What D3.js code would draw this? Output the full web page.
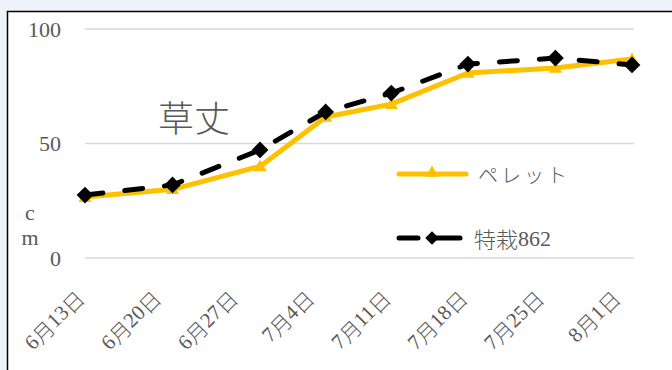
<!DOCTYPE html>
<html><head><meta charset="utf-8">
<script src="https://cdn.jsdelivr.net/npm/d3@7"></script>
<style>
html,body{margin:0;padding:0;background:#eef2f9;}
svg{display:block;}
text{font-family:"Liberation Serif","DejaVu Serif",serif;fill:#595959;}
.cjk{font-family:"Noto Sans CJK JP","Noto Sans CJK SC",sans-serif;font-weight:300;}
.lat{font-family:"Liberation Serif","DejaVu Serif",serif;}
</style></head>
<body>
<svg id="chart" width="672" height="370"></svg>
<script>
const tickLabels = ["6月13日","6月20日","6月27日","7月4日","7月11日","7月18日","7月25日","8月1日"];
const tickDates = ["2021-06-13","2021-06-20","2021-06-27","2021-07-04","2021-07-11","2021-07-18","2021-07-25","2021-08-01"];
const axisEnd = "2021-08-02";
const measureDates = ["2021-06-13","2021-06-21","2021-06-29","2021-07-05","2021-07-11","2021-07-18","2021-07-26","2021-08-02"];
const seriesNames = ["ペレット","特栽862"];
const pellet = [26.6, 30.0, 40.0, 61.6, 67.2, 80.8, 83.0, 86.9];
const tokusai = [27.5, 31.9, 47.2, 63.8, 72.0, 84.7, 87.3, 84.3];
const yTicks = [0, 50, 100];
const title = "草丈";
const unitChars = ["c","m"];

const parse = d3.timeParse("%Y-%m-%d");
const svg = d3.select("#chart");

// split text into latin / cjk runs so digits stay serif
function runs(sel, str){
  const parts = str.match(/[\x00-\x7F]+|[^\x00-\x7F]+/g) || [];
  sel.selectAll("tspan").data(parts).join("tspan")
    .attr("class", p => /^[\x00-\x7F]+$/.test(p) ? "lat" : "cjk")
    .text(p => p);
}

// chart box
svg.append("rect").attr("x",7.5).attr("y",11.5).attr("width",700).attr("height",400)
  .attr("fill","#fff").attr("stroke","#000").attr("stroke-width",1.5);

const x = d3.scaleTime().domain([parse(tickDates[0]), parse(axisEnd)]).range([85, 632]);
const y = d3.scaleLinear().domain([0,100]).range([258, 29]);

// gridlines
svg.append("g").selectAll("line").data(yTicks).join("line")
  .attr("x1",85).attr("x2",634).attr("y1",d=>y(d)).attr("y2",d=>y(d))
  .attr("stroke","#d9d9d9").attr("stroke-width",1.5);

// y axis labels
svg.append("g").selectAll("text").data(yTicks).join("text")
  .attr("x",61).attr("y",d=>y(d)).attr("text-anchor","end").attr("dominant-baseline","central")
  .attr("font-size",22).text(d=>d);

// unit
svg.append("g").selectAll("text").data(unitChars).join("text")
  .attr("x",30).attr("y",(d,i)=>212+i*25).attr("text-anchor","middle").attr("dominant-baseline","central")
  .attr("font-size",22).text(d=>d);

// x labels
svg.append("g").selectAll("text").data(tickDates).join("text")
  .attr("transform",d=>`translate(${x(parse(d))-5},${294}) rotate(-45)`)
  .attr("text-anchor","end").attr("dominant-baseline","central")
  .attr("font-size",21)
  .each(function(d,i){ runs(d3.select(this), tickLabels[i]); });

// title
svg.append("text").attr("x",194).attr("y",116).attr("text-anchor","middle").attr("dominant-baseline","central")
  .attr("font-size",36).attr("class","cjk").text(title);

const line = d3.line().x(d=>x(d.date)).y(d=>y(d.v));
const d1 = measureDates.map((d,i)=>({date:parse(d), v:pellet[i]}));
const d2 = measureDates.map((d,i)=>({date:parse(d), v:tokusai[i]}));

const yellow = "#FFC000";
const tri = d3.symbol().type(d3.symbolTriangle).size(75);
const dia = d3.symbol().type(d3.symbolSquare).size(140);
const diaS = d3.symbol().type(d3.symbolSquare).size(90);

// pellet
svg.append("path").datum(d1).attr("d",line).attr("fill","none").attr("stroke",yellow)
  .attr("stroke-width",5).attr("stroke-linejoin","round");
svg.append("g").selectAll("path").data(d1).join("path")
  .attr("d",tri).attr("transform",d=>`translate(${x(d.date)},${y(d.v)+1})`).attr("fill",yellow);

// tokusai
svg.append("path").datum(d2).attr("d",line).attr("fill","none").attr("stroke","#000")
  .attr("stroke-width",5).attr("stroke-linecap","round").attr("stroke-dasharray","18,22");
svg.append("g").selectAll("path").data(d2).join("path")
  .attr("d",dia).attr("transform",d=>`translate(${x(d.date)},${y(d.v)}) rotate(45)`).attr("fill","#000");

// legend
const lg = svg.append("g");
lg.append("line").attr("x1",399).attr("x2",466).attr("y1",174).attr("y2",174)
  .attr("stroke",yellow).attr("stroke-width",5).attr("stroke-linecap","round");
lg.append("path").attr("d",tri).attr("transform","translate(432,173)").attr("fill",yellow);
lg.append("text").attr("x",478).attr("y",174).attr("dominant-baseline","central").attr("font-size",20)
  .attr("letter-spacing",3).each(function(){ runs(d3.select(this), seriesNames[0]); });

lg.append("line").attr("x1",399).attr("x2",418).attr("y1",238).attr("y2",238)
  .attr("stroke","#000").attr("stroke-width",5).attr("stroke-linecap","round");
lg.append("line").attr("x1",432).attr("x2",460).attr("y1",238).attr("y2",238)
  .attr("stroke","#000").attr("stroke-width",5).attr("stroke-linecap","round");
lg.append("path").attr("d",diaS).attr("transform","translate(432,238) rotate(45)").attr("fill","#000");
lg.append("text").attr("x",474).attr("y",238).attr("dominant-baseline","central").attr("font-size",22)
  .each(function(){ runs(d3.select(this), seriesNames[1]); });
</script>
</body></html>
